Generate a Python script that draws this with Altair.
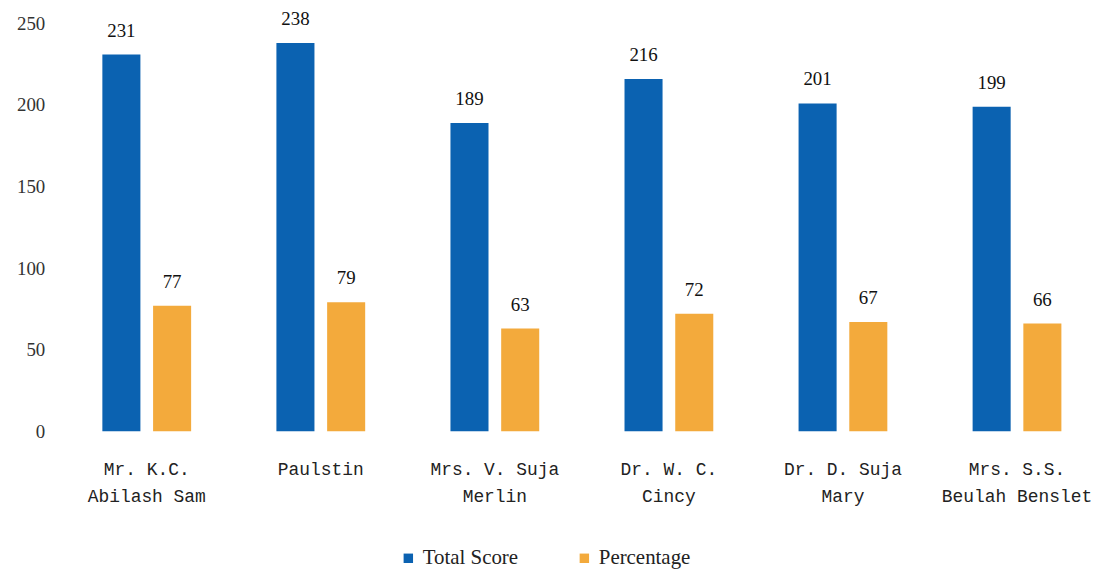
import altair as alt
import pandas as pd

names = ["Mr. K.C.|Abilash Sam", "Paulstin", "Mrs. V. Suja|Merlin",
         "Dr. W. C.|Cincy", "Dr. D. Suja|Mary", "Mrs. S.S.|Beulah Benslet"]
total_score = [231, 238, 189, 216, 201, 199]
percentage = [77, 79, 63, 72, 67, 66]
series = ["Total Score", "Percentage"]
colors = ["#0b62b1", "#f3aa3c"]

rows = []
for n, t, p in zip(names, total_score, percentage):
    rows.append({"name": n, "series": series[0], "value": t})
    rows.append({"name": n, "series": series[1], "value": p})
df = pd.DataFrame(rows)

x = alt.X("name:N", sort=names, title=None,
          scale=alt.Scale(paddingInner=0.49, paddingOuter=0.245),
          axis=alt.Axis(labelAngle=0, domain=False, ticks=False, labelPadding=30,
                        labelExpr="split(datum.label, '|')",
                        labelFont="Liberation Mono", labelFontSize=18,
                        labelColor="#222", labelLineHeight=27,
                        labelBaseline="top"))
xo = alt.XOffset("series:N", sort=series, scale=alt.Scale(paddingInner=0.25))
y = alt.Y("value:Q", title=None,
          scale=alt.Scale(domain=[0, 250], nice=False),
          axis=alt.Axis(values=[0, 50, 100, 150, 200, 250], domain=False, ticks=False,
                        grid=False, labelPadding=15, labelFont="Liberation Serif",
                        labelFontSize=19, labelColor="#333"))

bars = alt.Chart(df).mark_bar().encode(
    x=x, xOffset=xo, y=y,
    color=alt.Color("series:N", sort=series,
                    scale=alt.Scale(domain=series, range=colors),
                    legend=alt.Legend(title=None, orient="none", direction="horizontal",
                                      legendX=340, legendY=527, symbolType="square",
                                      symbolSize=90, labelFont="Liberation Serif",
                                      labelFontSize=21, labelColor="#222",
                                      columnPadding=56, labelOffset=4,
                                      symbolStrokeWidth=0))
)

labels = alt.Chart(df).mark_text(dy=-14, baseline="bottom", font="Liberation Serif",
                                 fontSize=19, color="#111").encode(
    x=x, xOffset=xo, y=y, text="value:Q")

chart = alt.layer(bars, labels).properties(
    width=1050, height=410,
    autosize=alt.AutoSizeParams(type="none"),
    padding={"left": 52, "top": 14, "right": 5, "bottom": 140},
).configure(background="white").configure_view(strokeWidth=0, stroke=None)

chart.save("out.html", embed_options={"renderer": "svg", "actions": False})
